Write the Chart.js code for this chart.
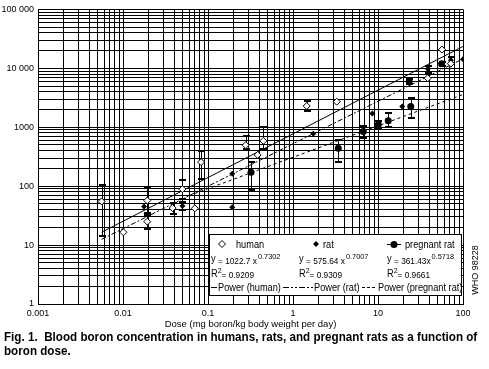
<!DOCTYPE html>
<html>
<head>
<meta charset="utf-8">
<script src="https://cdn.jsdelivr.net/npm/chart.js@4/dist/chart.umd.min.js"></script>
<style>
html, body { margin: 0; padding: 0; background: #fff; }
#wrap { position: relative; width: 489px; height: 369px; overflow: hidden; }
#cap { position: absolute; left: 4px; top: 330px; font: bold 12px "Liberation Sans", Arial, sans-serif; line-height: 14px; color: #000; white-space: nowrap; transform-origin: 0 0; }
</style>
</head>
<body>
<div id="wrap">
  <canvas id="c" width="489" height="369"></canvas>
  <div id="cap"><span id="cap1">Fig. 1.&nbsp; Blood boron concentration in humans, rats, and pregnant rats as a function of</span><br>boron dose.</div>
</div>
<script>
// axes
const xDecades = [0.001, 0.01, 0.1, 1, 10, 100]
const xTickLabels = ['0.001', '0.01', '0.1', '1', '10', '100']
const yDecades = [1, 10, 100, 1000, 10000, 100000]
const yTickLabels = ['1', '10', '100', '1000', '10 000', '100 000']

// humains (dose mg/kg/j, bore sanguin)
const humanDose  = [0.0056, 0.0101, 0.0193, 0.0193, 0.0384, 0.05, 0.07, 0.083, 0.278, 0.384, 0.448, 1.45, 3.27, 38.4, 56.6, 72]
const humanBoron = [55, 16.5, 57, 25, 42.5, 89, 42, 256, 497, 339, 588, 2295, 2714, 6790, 20800, 12000]
const humanHigh  = [104, null, 92, 33, 51, 125, null, 395, 711, null, 1004, 2780, null, null, null, null]
const humanLow   = [14, null, 35, 18.5, 34, 60, null, 134, 422, null, 422, 1893, null, null, null, null]

// rats
const ratDose  = [0.0177, 0.05, 0.193, 0.193, 1.73, 8.57, 19.3, 38.4, 72, 100]
const ratBoron = [45, 46, 162, 44, 777, 1714, 2240, 9880, 13700, 14200]
const ratHigh  = [null, 53, null, null, null, null, null, 11000, 15500, null]
const ratLow   = [null, 40, null, null, null, null, null, 8230, 12200, null]

// rates gestantes
const pregDose  = [0.321, 3.41, 6.71, 10.1, 13.2, 23.3, 24.3, 56]
const pregBoron = [173, 438, 849, 1109, 1292, 5970, 2240, 12000]
const pregHigh  = [253, 601, 1067, 1292, 1714, 6600, 3077, 13000]
const pregLow   = [87, 256, 659, 955, 1027, 5400, 1416, 11000]

// courbes de tendance (extrémités)
const humanFitDose = [0.0056, 100]
const humanFitBoron = [16.5, 23500]
const ratFitDose = [0.0056, 100]
const ratFitBoron = [12.5, 14500]
const pregFitDose = [0.07, 100]
const pregFitBoron = [75, 3600]

// légende
const seriesNames = ['human', 'rat', 'pregnant rat']
const eqCoef = ['= 1022.7 x', '= 575.64 x', '= 361.43x']
const eqExp = ['0.7302', '0.7007', '0.5718']
const eqR2 = ['= 0.9209', '= 0.9309', '= 0.9661']
const fitNames = ['Power (human)', 'Power (rat)', 'Power (pregnant rat)']

const FONT = '"Liberation Sans", Arial, sans-serif'
Chart.defaults.font.family = FONT
Chart.defaults.font.size = 9
Chart.defaults.color = '#000'

function pts(xs, ys) {
    let out = []
    for (let i = 0; i < xs.length; i++) out.push({x: xs[i], y: ys[i]})
    return out
}

function logTicks(decades) {
    let t = []
    for (let i = 0; i < decades.length - 1; i++) {
        for (let m = 1; m < 10; m++) t.push({value: parseFloat((decades[i] * m).toPrecision(3))})
    }
    t.push({value: decades[decades.length - 1]})
    return t
}

function labelFor(value, decades, labels) {
    for (let i = 0; i < decades.length; i++) {
        if (Math.abs(value / decades[i] - 1) < 1e-6) return labels[i]
    }
    return ''
}

// texte un peu resserré (police étroite de l'original)
function txt(ctx, s, x, y, size, sx) {
    ctx.save()
    ctx.font = size + 'px ' + FONT
    ctx.translate(x, y)
    ctx.scale(sx, 1)
    ctx.fillText(s, 0, 0)
    const w = ctx.measureText(s).width * sx
    ctx.restore()
    return w
}

// barres d'erreur
const errorBars = {
    id: 'errorBars',
    beforeDatasetsDraw(chart) {
        const ctx = chart.ctx
        const xs = chart.scales.x, ys = chart.scales.y
        ctx.save()
        ctx.strokeStyle = '#000'
        chart.data.datasets.forEach(ds => {
            if (!ds.errHigh) return
            ds.data.forEach((p, i) => {
                if (ds.errHigh[i] == null) return
                const px = Math.round(xs.getPixelForValue(p.x)) + 0.5
                const yh = Math.round(ys.getPixelForValue(ds.errHigh[i]))
                const yl = Math.round(ys.getPixelForValue(ds.errLow[i]))
                ctx.lineWidth = 1
                ctx.beginPath(); ctx.moveTo(px, yh); ctx.lineTo(px, yl); ctx.stroke()
                ctx.lineWidth = 2
                ctx.beginPath()
                ctx.moveTo(px - 3.5, yh); ctx.lineTo(px + 3.5, yh)
                ctx.moveTo(px - 3.5, yl); ctx.lineTo(px + 3.5, yl)
                ctx.stroke()
            })
        })
        ctx.restore()
    }
}

// boîte de légende + texte WHO
const legendBox = {
    id: 'legendBox',
    afterDraw(chart) {
        const ctx = chart.ctx
        ctx.save()
        ctx.fillStyle = '#fff'
        ctx.fillRect(209, 234, 253, 62)
        ctx.strokeStyle = '#000'
        ctx.lineWidth = 1
        ctx.strokeRect(209.5, 234.5, 252, 61)
        ctx.textBaseline = 'alphabetic'

        // ligne 1 : séries
        ctx.fillStyle = '#fff'
        ctx.beginPath(); ctx.moveTo(222, 240.5); ctx.lineTo(225.5, 244); ctx.lineTo(222, 247.5); ctx.lineTo(218.5, 244); ctx.closePath(); ctx.fill(); ctx.stroke()
        ctx.fillStyle = '#000'
        txt(ctx, seriesNames[0], 236, 248, 10, 0.92)
        ctx.beginPath(); ctx.moveTo(316, 241); ctx.lineTo(319, 244); ctx.lineTo(316, 247); ctx.lineTo(313, 244); ctx.closePath(); ctx.fill()
        txt(ctx, seriesNames[1], 323, 248, 10, 0.92)
        ctx.beginPath(); ctx.moveTo(387, 244.5); ctx.lineTo(401, 244.5); ctx.stroke()
        ctx.beginPath(); ctx.arc(394, 244.5, 3.5, 0, Math.PI * 2); ctx.fill()
        txt(ctx, seriesNames[2], 405, 248, 10, 0.92)

        // lignes 2 et 3 : équations
        const cols = [211, 299, 387]
        for (let i = 0; i < 3; i++) {
            let x = cols[i]
            txt(ctx, 'y', x, 262, 10, 0.92)
            x += 7
            x += txt(ctx, eqCoef[i], x, 264, 9, 0.92) + 1
            txt(ctx, eqExp[i], x, 259, 8, 0.92)
            let r = cols[i]
            r += txt(ctx, 'R', r, 277, 10, 0.92)
            r += txt(ctx, '2', r, 273, 7, 1)
            txt(ctx, eqR2[i], r, 278, 9, 0.92)
        }

        // ligne 4 : courbes de tendance
        const dashes = [[], [6, 2, 2, 2, 2, 2], [3, 2]]
        const segX = [[211, 217], [283, 313], [362, 377]]
        const txtX = [218, 314, 378]
        for (let i = 0; i < 3; i++) {
            ctx.setLineDash(dashes[i])
            ctx.beginPath(); ctx.moveTo(segX[i][0], 287.5); ctx.lineTo(segX[i][1], 287.5); ctx.stroke()
            ctx.setLineDash([])
            txt(ctx, fitNames[i], txtX[i], 291, 10, 0.92)
        }

        // WHO
        ctx.translate(478, 270)
        ctx.rotate(-Math.PI / 2)
        ctx.textAlign = 'center'
        ctx.font = '9px ' + FONT
        ctx.fillText('WHO 98228', 0, 0)
        ctx.restore()
    }
}

const config = {
    type: 'scatter',
    data: {
        datasets: [
            {
                label: 'human', data: pts(humanDose, humanBoron),
                errHigh: humanHigh, errLow: humanLow,
                pointStyle: 'rectRot', pointRadius: 3.5, borderWidth: 1,
                borderColor: '#000', backgroundColor: '#fff', order: 1
            },
            {
                label: 'rat', data: pts(ratDose, ratBoron),
                errHigh: ratHigh, errLow: ratLow,
                pointStyle: 'rectRot', pointRadius: 3, borderWidth: 0,
                borderColor: '#000', backgroundColor: '#000', order: 1
            },
            {
                label: 'pregnant rat', data: pts(pregDose, pregBoron),
                errHigh: pregHigh, errLow: pregLow,
                pointStyle: 'circle', pointRadius: 3.5, borderWidth: 0,
                borderColor: '#000', backgroundColor: '#000', order: 1
            },
            {
                label: 'Power (human)', type: 'line', data: pts(humanFitDose, humanFitBoron),
                borderColor: '#000', borderWidth: 1, pointRadius: 0, fill: false, order: 2
            },
            {
                label: 'Power (rat)', type: 'line', data: pts(ratFitDose, ratFitBoron),
                borderColor: '#000', borderWidth: 1, borderDash: [5, 2, 2, 2], pointRadius: 0, fill: false, order: 2
            },
            {
                label: 'Power (pregnant rat)', type: 'line', data: pts(pregFitDose, pregFitBoron),
                borderColor: '#000', borderWidth: 1, borderDash: [3, 3], pointRadius: 0, fill: false, order: 2
            }
        ]
    },
    options: {
        responsive: false,
        animation: false,
        devicePixelRatio: 1,
        layout: { padding: { top: 3, right: 26, left: 0, bottom: 39 } },
        plugins: { legend: { display: false }, tooltip: { enabled: false } },
        scales: {
            x: {
                type: 'logarithmic', min: 0.001, max: 100,
                afterBuildTicks: s => { s.ticks = logTicks(xDecades) },
                afterFit: s => { s.height = 26 },
                grid: { color: '#000', lineWidth: 1, drawTicks: false },
                border: { color: '#000', width: 1 },
                ticks: {
                    autoSkip: false, maxRotation: 0, padding: 4,
                    callback: v => labelFor(v, xDecades, xTickLabels)
                },
                title: { display: true, text: 'Dose (mg boron/kg body weight per day)', padding: 0, font: { size: 9.5 } }
            },
            y: {
                type: 'logarithmic', min: 1, max: 100000,
                afterBuildTicks: s => { s.ticks = logTicks(yDecades) },
                afterFit: s => { s.width = 38 },
                grid: { color: '#000', lineWidth: 1, drawTicks: false },
                border: { color: '#000', width: 1 },
                ticks: {
                    autoSkip: false, padding: 4,
                    callback: v => labelFor(v, yDecades, yTickLabels)
                }
            }
        }
    },
    plugins: [errorBars, legendBox]
}

new Chart(document.getElementById('c'), config)

// légende de figure : ramener la première ligne à la largeur de l'original
const cap = document.getElementById('cap')
const w1 = document.getElementById('cap1').getBoundingClientRect().width
cap.style.transform = 'scaleX(' + (473 / w1).toFixed(3) + ')'
</script>
</body>
</html>
